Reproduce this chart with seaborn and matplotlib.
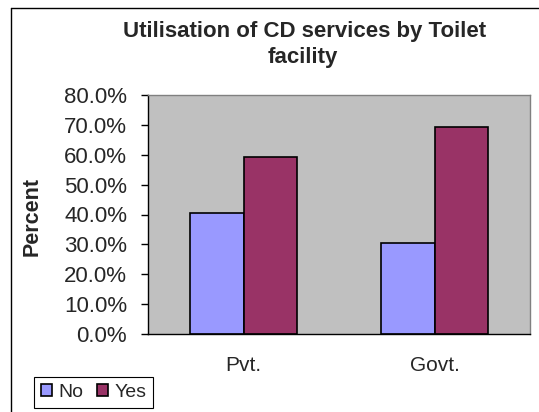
import matplotlib
matplotlib.use("Agg")
import matplotlib.pyplot as plt
import matplotlib.lines as mlines
import seaborn as sns
import pandas as pd

# Data: share of households using CD services, by toilet facility type
facility = ["Pvt.", "Govt."]
response = ["No", "Yes"]
pct_no = [40.6, 30.6]
pct_yes = [59.4, 69.4]
y_ticks = [0, 10, 20, 30, 40, 50, 60, 70, 80]

df = pd.DataFrame({
    "Facility": facility * 2,
    "Response": [response[0]] * len(facility) + [response[1]] * len(facility),
    "Percent": pct_no + pct_yes,
})

sns.set_theme(style="white")
plt.rcParams["font.family"] = ["Liberation Sans", "DejaVu Sans"]

fig = plt.figure(figsize=(5.39, 4.12), dpi=100)
ax = fig.add_axes([148 / 539, 1 - 334 / 412, 382 / 539, 239 / 412])

sns.barplot(
    data=df, x="Facility", y="Percent", hue="Response",
    order=facility, hue_order=response,
    palette=["#9999FF", "#993366"],
    width=0.565, gap=0, edgecolor="black", linewidth=1.2,
    saturation=1, ax=ax, legend=True,
)

ax.set_facecolor("#C0C0C0")
ax.set_xlim(-0.5, 1.5)
ax.set_ylim(0, 80)
ax.set_yticks(y_ticks)
ax.set_yticklabels([f"{v:.1f}%" for v in y_ticks])
ax.set_xlabel("")
ax.set_ylabel("")

# category boundary tick marks like a spreadsheet chart
ax.set_xticks([-0.5, 0.5, 1.5], minor=True)
ax.tick_params(axis="x", which="minor", length=5, width=1, color="black", direction="out")
ax.tick_params(axis="x", which="major", length=0, pad=16, labelsize=15)
ax.tick_params(axis="y", which="major", length=5, width=1, color="black",
               direction="out", pad=10, labelsize=16, left=True)

for side in ["left", "bottom"]:
    ax.spines[side].set_color("black")
    ax.spines[side].set_linewidth(1.0)
for side in ["top", "right"]:
    ax.spines[side].set_visible(True)
    ax.spines[side].set_color("#808080")
    ax.spines[side].set_linewidth(1.0)

# legend below the chart, at the left
handles, labels = ax.get_legend_handles_labels()
ax.legend_.remove()
leg = fig.legend(
    handles, labels, loc="center",
    bbox_to_anchor=((32 + 155) / 2 / 539, 1 - (376 + 409) / 2 / 412),
    ncol=2, frameon=True, fancybox=False, edgecolor="black", framealpha=1,
    fontsize=14, handlelength=0.6, handleheight=0.6, handletextpad=0.3,
    columnspacing=0.7, borderpad=0.35,
)
leg.get_frame().set_linewidth(0.8)

title_lines = ["Utilisation of CD services by Toilet", "facility"]
fig.text(305 / 539, 1 - 37 / 412, title_lines[0], ha="center", va="baseline",
         fontsize=16, fontweight="bold")
fig.text(303 / 539, 1 - 63.5 / 412, title_lines[1], ha="center", va="baseline",
         fontsize=16, fontweight="bold")
fig.text(32 / 539, 1 - 217 / 412, "Percent", rotation=90, ha="center", va="center",
         fontsize=15.5, fontweight="bold")

# chart area border (left and top edges)
fig.add_artist(mlines.Line2D([11 / 539, 11 / 539], [0, 1 - 8 / 412],
                             transform=fig.transFigure, color="black", linewidth=1.0))
fig.add_artist(mlines.Line2D([11 / 539, 1], [1 - 8 / 412, 1 - 8 / 412],
                             transform=fig.transFigure, color="black", linewidth=1.0))

fig.savefig("out.png", dpi=100)
